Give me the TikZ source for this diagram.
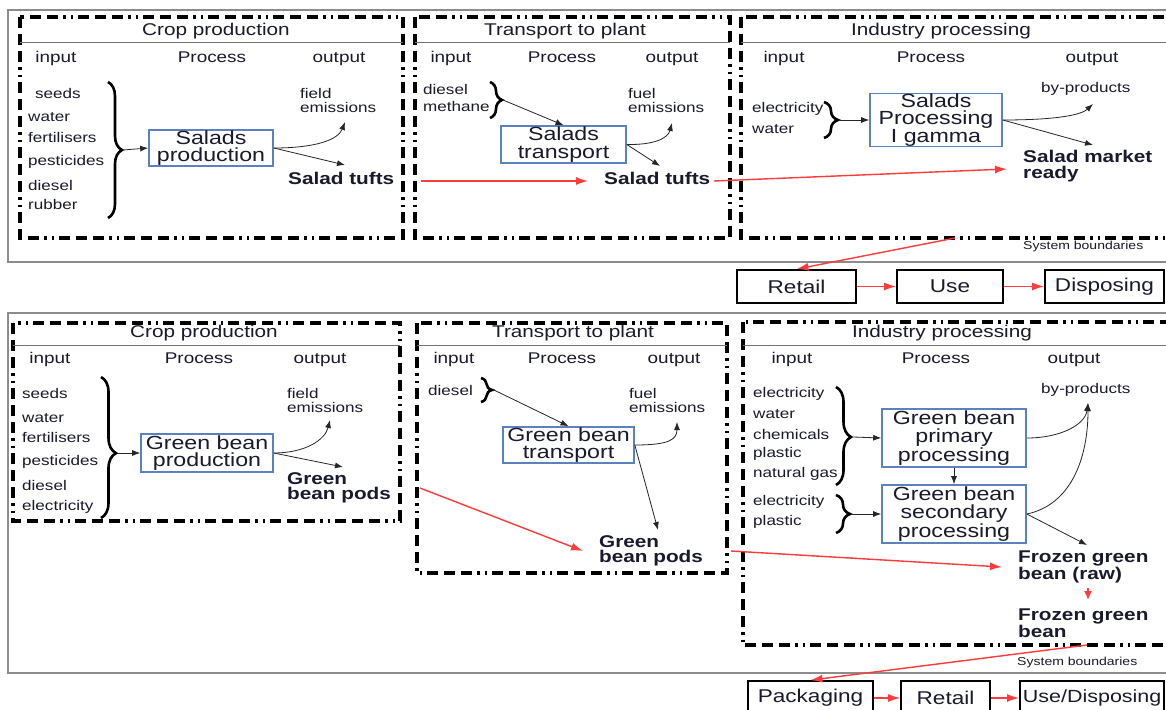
\documentclass[tikz,border=0pt]{standalone}
\usepackage{fontspec}
\setmainfont{Liberation Sans}[FakeStretch=1.22]
\usetikzlibrary{decorations.pathreplacing,arrows.meta,calc}
\definecolor{txtcol}{HTML}{1A1A2E}
\definecolor{procblue}{HTML}{5B82C0}
\definecolor{arrred}{HTML}{FF3B3B}
\newcommand\ftitle{\fontsize{17}{19}\selectfont}
\newcommand\fhead{\fontsize{15.5}{17}\selectfont}
\newcommand\fitem{\fontsize{14}{14}\selectfont}
\newcommand\fout{\fontsize{17}{15.5}\selectfont\bfseries}
\newcommand\fproc{\fontsize{19}{17.5}\selectfont}
\newcommand\fstage{\fontsize{18.5}{20}\selectfont}
\newcommand\fsys{\fontsize{11.5}{12}\selectfont}
\begin{document}
\begin{tikzpicture}[x=1pt,y=-1pt,
  sysb/.style={draw=black, line width=3.2pt, dash pattern=on 11pt off 6pt on 11pt off 6pt on 11pt off 5pt on 2.5pt off 5pt on 2.5pt off 5pt},
  hline/.style={draw=black!55, line width=1pt},
  frame/.style={draw=black!45, line width=1.5pt},
  proc/.style={draw=procblue, line width=1.6pt, align=center, font=\fproc, inner sep=0pt, text=txtcol},
  stage/.style={draw=black, line width=1.8pt, font=\fstage, inner sep=0pt, text=txtcol},
  txt/.style={inner sep=0pt, text=txtcol},
  item/.style={txt, anchor=west, font=\fitem, align=left},
  head/.style={txt, anchor=base, font=\fhead},
  ttl/.style={txt, anchor=base, font=\ftitle},
  outp/.style={txt, anchor=west, font=\fout, align=left},
  sysl/.style={txt, anchor=west, font=\fsys},
  brc/.style={decorate, decoration={brace, amplitude=#1}, line width=2.6pt},
  blk/.style={-{Latex[length=8pt,width=6pt]}, line width=0.8pt, draw=black!85},
  rarr/.style={-{Latex[length=12pt,width=8pt]}, line width=1.4pt, draw=arrred, fill=arrred},
]
\useasboundingbox (0,0) rectangle (1166,709);
\clip (0,0) rectangle (1166,709);
\fill[white] (0,0) rectangle (1166,709);

% ================= TOP: salads =================
\draw[frame] (8,10) rectangle (1195,262);
% Crop production
\draw[sysb] (20,17) rectangle (403,238);
\draw[hline] (20,43) -- (403,43);
\node[ttl] (tA) at (216,36) {Crop production};
\node[head] (inA) at (56,63) {input};
\node[head] (prA) at (212,63) {Process};
\node[head] (ouA) at (339,63) {output};
\node[item] (a1) at (35,93) {seeds};
\node[item] (a2) at (28,117) {water};
\node[item] (a3) at (28,137) {fertilisers};
\node[item] (a4) at (28,162) {pesticides};
\node[item] (a5) at (28,185) {diesel};
\node[item] (a6) at (28,204) {rubber};
\coordinate (bAt) at (108,82);
\coordinate (bAb) at (108,218);
\draw[brc=14pt] (bAt) -- (bAb);
\coordinate (bA) at (123,150);
\node[proc, minimum width=124pt, minimum height=36pt] (pA) at (211,148) {Salads\\production};
\draw[blk] (bA) -- (pA.west);
\node[item] (feA) at (300,100) {field\\emissions};
\coordinate (feAt) at (345,122);
\draw[blk] (pA.east) .. controls (315,148) and (338,140) .. (feAt);
\coordinate (stAt) at (345,165);
\draw[blk] (pA.east) -- (stAt);
\node[outp] (stA) at (288,178) {Salad tufts};

% Transport to plant
\draw[sysb] (415,17) rectangle (730,238);
\draw[hline] (415,43) -- (730,43);
\node[ttl] (tB) at (565,36) {Transport to plant};
\node[head] (inB) at (451,63) {input};
\node[head] (prB) at (562,63) {Process};
\node[head] (ouB) at (672,63) {output};
\node[item] (b1) at (423,89) {diesel};
\node[item] (b2) at (423,106) {methane};
\coordinate (bBt) at (490,82);
\coordinate (bBb) at (490,118);
\draw[brc=12pt] (bBt) -- (bBb);
\coordinate (bB) at (503,100);
\node[proc, minimum width=125pt, minimum height=37pt] (pB) at (563.5,144.5) {Salads\\transport};
\draw[blk] (bB) -- (pB.north);
\node[item] (feB) at (628,100) {fuel\\emissions};
\coordinate (feBt) at (672,123);
\draw[blk] (pB.east) .. controls (655,145) and (668,138) .. (feBt);
\coordinate (stBt) at (660,166);
\draw[blk] (pB.east) -- (stBt);
\node[outp] (stB) at (604,178) {Salad tufts};
\coordinate (r1s) at (421,181);
\draw[rarr] (r1s) -- ($(stB.west)+(-16,3)$);

% Industry processing
\draw[sysb] (741,17) rectangle (1195,238);
\draw[hline] (741,43) -- (1195,43);
\node[ttl] (tC) at (941,36) {Industry processing};
\node[head] (inC) at (784,63) {input};
\node[head] (prC) at (931,63) {Process};
\node[head] (ouC) at (1092,63) {output};
\node[item] (c1) at (752,109) {electricity};
\node[item] (c2) at (752,129) {water};
\coordinate (bCt) at (824,102);
\coordinate (bCb) at (824,138);
\draw[brc=14pt] (bCt) -- (bCb);
\coordinate (bC) at (840,120);
\node[proc, minimum width=132pt, minimum height=52pt] (pC) at (936,120) {Salads\\Processing\\I gamma};
\draw[blk] (bC) -- (pC.west);
\node[item] (bpC) at (1041,89) {by-products};
\coordinate (bpCt) at (1093,104);
\draw[blk] (pC.east) .. controls (1050,120) and (1080,116) .. (bpCt);
\coordinate (smrt) at (1093,145);
\draw[blk] (pC.east) -- (smrt);
\node[outp] (smr) at (1023,166) {Salad market\\ready};
\coordinate (r2s) at (714,181);
\draw[rarr] (r2s) -- ($(smr.west)+(-16,3)$);
\node[sysl] (sbA) at (1023,247) {System boundaries};

% stages
\node[stage, minimum width=119pt, minimum height=33pt] (ret1) at (796.5,286.5) {Retail};
\node[stage, minimum width=106pt, minimum height=33pt] (use1) at (950,286.5) {Use};
\node[stage, minimum width=119pt, minimum height=33pt] (dis1) at (1104.5,286.5) {Disposing};
\coordinate (r3s) at (955,238);
\draw[rarr] (r3s) -- (ret1.north);
\draw[rarr] (ret1.east) -- (use1.west);
\draw[rarr] (use1.east) -- (dis1.west);

% ================= BOTTOM: green beans =================
\draw[frame] (8,313) rectangle (1195,673);
% Crop production
\draw[sysb] (13,323) rectangle (400,521);
\draw[hline] (13,345) -- (400,345);
\node[ttl] (tD) at (204,337.5) {Crop production};
\node[head] (inD) at (50,363) {input};
\node[head] (prD) at (199,363) {Process};
\node[head] (ouD) at (320,363) {output};
\node[item] (d1) at (22,393) {seeds};
\node[item] (d2) at (22,418) {water};
\node[item] (d3) at (22,437) {fertilisers};
\node[item] (d4) at (22,462) {pesticides};
\node[item] (d5) at (22,485) {diesel};
\node[item] (d6) at (22,507) {electricity};
\coordinate (bDt) at (101,377);
\coordinate (bDb) at (101,518);
\draw[brc=15pt, decoration={aspect=0.54}] (bDt) -- (bDb);
\coordinate (bD) at (117,453);
\node[proc, minimum width=132pt, minimum height=38pt] (pD) at (207,453) {Green bean\\production};
\draw[blk] (bD) -- (pD.west);
\node[item] (feD) at (287,400) {field\\emissions};
\coordinate (feDt) at (330,420);
\draw[blk] (pD.east) .. controls (305,453) and (325,440) .. (feDt);
\coordinate (gbDt) at (343,467);
\draw[blk] (pD.east) -- (gbDt);
\node[outp] (gbD) at (287,488) {Green\\bean pods};

% Transport to plant
\draw[sysb] (417,323) rectangle (727,573);
\draw[hline] (417,345) -- (727,345);
\node[ttl] (tE) at (573,337.5) {Transport to plant};
\node[head] (inE) at (454,363) {input};
\node[head] (prE) at (562,363) {Process};
\node[head] (ouE) at (674,363) {output};
\node[item] (e1) at (428,390) {diesel};
\coordinate (bEt) at (481,378);
\coordinate (bEb) at (481,402);
\draw[brc=11pt] (bEt) -- (bEb);
\coordinate (bE) at (494,390);
\node[proc, minimum width=131pt, minimum height=36pt] (pE) at (568.5,445) {Green bean\\transport};
\draw[blk] (bE) -- (pE.north);
\node[item] (feE) at (629,400) {fuel\\emissions};
\coordinate (feEt) at (677,422);
\draw[blk] (pE.east) .. controls (668,445) and (677,440) .. (feEt);
\coordinate (gbEt) at (658,530);
\draw[blk] (pE.east) -- (gbEt);
\node[outp] (gbE) at (599,551) {Green\\bean pods};
\coordinate (r4s) at (420,488);
\draw[rarr] (r4s) -- ($(gbE.west)+(-16,0)$);

% Industry processing
\draw[sysb] (743,322) rectangle (1195,645);
\draw[hline] (743,345) -- (1195,345);
\node[ttl] (tF) at (942,337.5) {Industry processing};
\node[head] (inF) at (792,363) {input};
\node[head] (prF) at (936,363) {Process};
\node[head] (ouF) at (1074,363) {output};
\node[item] (f1) at (753,394) {electricity};
\node[item] (f2) at (753,414) {water};
\node[item] (f3) at (753,434) {chemicals};
\node[item] (f4) at (753,454) {plastic};
\node[item] (f5) at (753,474) {natural gas};
\node[item] (f6) at (753,502) {electricity};
\node[item] (f7) at (753,522) {plastic};
\coordinate (bF1t) at (836,387);
\coordinate (bF1b) at (836,485);
\draw[brc=15pt, decoration={aspect=0.51}] (bF1t) -- (bF1b);
\coordinate (bF1) at (853,437);
\coordinate (bF2t) at (836,495);
\coordinate (bF2b) at (836,533);
\draw[brc=14pt] (bF2t) -- (bF2b);
\coordinate (bF2) at (852,514);
\node[proc, minimum width=144pt, minimum height=58pt] (pF1) at (954,438) {Green bean\\primary\\processing};
\node[proc, minimum width=144pt, minimum height=58pt] (pF2) at (954,514) {Green bean\\secondary\\processing};
\draw[blk] (bF1) -- (pF1.west);
\draw[blk] (bF2) -- (pF2.west);
\draw[blk] (pF1.south) -- (pF2.north);
\node[item] (bpF) at (1041,390) {by-products};
\coordinate (bpFt) at (1088,403);
\draw[blk] (pF1.east) .. controls (1060,438) and (1085,425) .. (bpFt);
\draw[blk] (pF2.east) .. controls (1070,505) and (1088,460) .. (bpFt);
\coordinate (fgrt) at (1087,545);
\draw[blk] (pF2.east) -- (fgrt);
\node[outp] (fgr) at (1018,567) {Frozen green\\bean (raw)};
\node[outp] (fg) at (1018,623) {Frozen green\\bean};
\coordinate (r6s) at (1088,588);
\coordinate (r6e) at (1088,600);
\draw[rarr, -{Latex[length=9pt,width=8pt]}] (r6s) -- (r6e);
\coordinate (r5s) at (731,551);
\draw[rarr] (r5s) -- ($(fgr.west)+(-16,0)$);
\node[sysl] (sbF) at (1017,663) {System boundaries};

% stages
\node[stage, minimum width=125pt, minimum height=34pt] (pack) at (810.5,698) {Packaging};
\node[stage, minimum width=89pt, minimum height=34pt] (ret2) at (945.5,698) {Retail};
\node[stage, anchor=west, inner xsep=3pt, minimum height=34pt, font=\fontsize{17.6}{20}\selectfont] (ud) at (1019,698) {Use/Disposing};
\coordinate (r7s) at (1087,645);
\draw[rarr] (r7s) -- (pack.north);
\draw[rarr] (pack.east) -- (ret2.west);
\draw[rarr] (ret2.east) -- (ud.west);
\end{tikzpicture}
\end{document}
